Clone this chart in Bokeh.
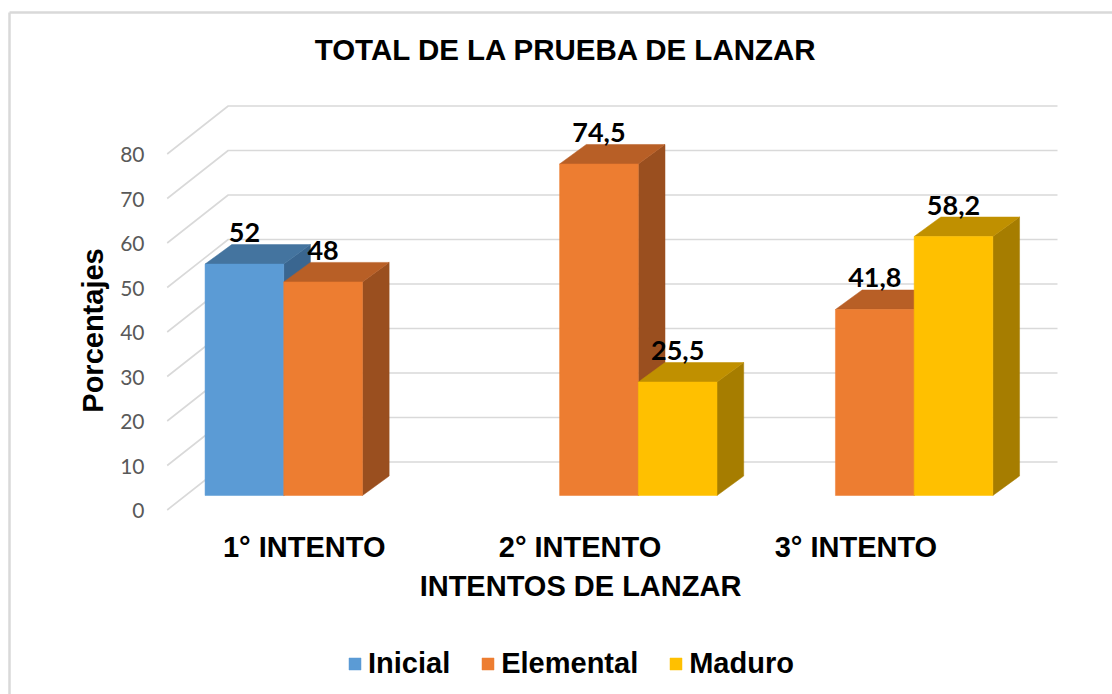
import math
from bokeh.plotting import figure
from bokeh.models import Range1d, Legend, LegendItem
from bokeh.core.properties import value
from bokeh.embed import file_html
from bokeh.resources import INLINE

# ---------------- data ----------------
title_text = "TOTAL DE LA PRUEBA DE LANZAR"
x_title = "INTENTOS DE LANZAR"
y_title = "Porcentajes"
categories = ["1° INTENTO", "2° INTENTO", "3° INTENTO"]
series_names = ["Inicial", "Elemental", "Maduro"]
inicial = [52, None, None]
elemental = [48, 74.5, 41.8]
maduro = [None, 25.5, 58.2]
y_ticks = [0, 10, 20, 30, 40, 50, 60, 70, 80]

front_colors = ["#5B9BD5", "#ED7D31", "#FFC000"]
top_colors = ["#44749F", "#B85F26", "#C09000"]
side_colors = ["#3A6690", "#9A4F1F", "#A67D00"]

series_values = [inicial, elemental, maduro]

# ---------------- geometry (oblique 3-D look) ----------------
W, H = 1112, 694
PX_X = 275.85          # pixels per category unit
PX_Y = 4.45            # pixels per percentage unit
CAT1 = 303.7           # pixel x of first category centre (front plane)
ZERO = 509.5           # pixel y of value 0 (front plane)

x_start = 1 - CAT1 / PX_X
x_end = x_start + W / PX_X
y_start = -(H - ZERO) / PX_Y
y_end = y_start + H / PX_Y


def px2x(px):
    return x_start + px / PX_X


def px2y(py):
    return y_end - py / PX_Y


BFX, BFY = 18.9 / PX_X, 14.5 / PX_Y     # bar front plane shift
DX, DY = 26.7 / PX_X, 19.5 / PX_Y       # bar depth
WX, WY = 61.0 / PX_X, 48.0 / PX_Y       # wall depth
SLOT = 78.7 / PX_X
XL = px2x(166.7)
XR = px2x(1057)

p = figure(width=W, height=H, x_range=Range1d(x_start, x_end), y_range=Range1d(y_start, y_end),
           output_backend="svg", toolbar_location=None, title=None,
           x_axis_location=None, y_axis_location=None,
           min_border_left=0, min_border_right=0, min_border_top=0, min_border_bottom=0)
p.outline_line_color = None
p.grid.visible = False
p.background_fill_color = "white"
p.border_fill_color = "white"

# chart-area border (only left and top edges are inside the picture)
p.segment(x0=[px2x(9), px2x(9)], y0=[px2y(H + 5), px2y(12)], x1=[px2x(9), px2x(W + 5)], y1=[px2y(12), px2y(12)],
          line_color="#D9D9D9", line_width=2.5)

# gridlines: left wall diagonal + back wall horizontal
gxs = [[XL, XL + WX, XR] for t in y_ticks]
gys = [[t, t + WY, t + WY] for t in y_ticks]
p.multi_line(gxs, gys, line_color="#D9D9D9", line_width=1.6)

# bars
front_renderers = []
lab_x, lab_y, lab_t = [], [], []
for k, (name, vals) in enumerate(zip(series_names, series_values)):
    fx0, fx1, fb, ft = [], [], [], []
    txs, tys, sxs, sys_ = [], [], [], []
    for i, v in enumerate(vals):
        if v is None:
            continue
        cx = (i + 1) + (k - 1) * SLOT + BFX
        x0, x1 = cx - SLOT / 2, cx + SLOT / 2
        yb, yt = BFY, v + BFY
        fx0.append(x0); fx1.append(x1); fb.append(yb); ft.append(yt)
        txs.append([x0, x1, x1 + DX, x0 + DX]); tys.append([yt, yt, yt + DY, yt + DY])
        sxs.append([x1, x1 + DX, x1 + DX, x1]); sys_.append([yb, yb + DY, yt + DY, yt])
        lab_x.append(cx); lab_y.append(yt + DY + 12.0 / PX_Y)
        lab_t.append(f"{v:g}".replace(".", ","))
    p.patches(sxs, sys_, fill_color=side_colors[k], line_color=side_colors[k], line_width=0.5)
    p.patches(txs, tys, fill_color=top_colors[k], line_color=top_colors[k], line_width=0.5)
    r = p.quad(left=fx0, right=fx1, bottom=fb, top=ft, fill_color=front_colors[k],
               line_color=front_colors[k], line_width=0.5)
    front_renderers.append(r)

# data labels
p.text(x=lab_x, y=lab_y, text=lab_t, text_align="center", text_baseline="alphabetic",
       text_font=value("Lato"), text_font_style="bold", text_font_size="27px", text_color="black")

# y tick labels (front plane)
p.text(x=[px2x(144)] * len(y_ticks), y=[t - 0.5 / PX_Y for t in y_ticks], text=[str(t) for t in y_ticks],
       text_align="right", text_baseline="alphabetic",
       text_font=value("Lato"), text_font_size="21px", text_color="#595959")

# category labels
p.text(x=[i + 1 for i in range(len(categories))], y=[px2y(546)] * len(categories), text=categories,
       text_align="center", text_baseline="alphabetic",
       text_font=value("Liberation Sans"), text_font_style="bold", text_font_size="29px", text_color="black")

# titles
p.text(x=[px2x(566)], y=[px2y(48.5)], text=[title_text], text_align="center", text_baseline="alphabetic",
       text_font=value("Liberation Sans"), text_font_style="bold", text_font_size="29.5px", text_color="black")
p.text(x=[px2x(580)], y=[px2y(585)], text=[x_title], text_align="center", text_baseline="alphabetic",
       text_font=value("Liberation Sans"), text_font_style="bold", text_font_size="29px", text_color="black")
p.text(x=[px2x(92.5)], y=[px2y(330)], text=[y_title], angle=math.pi / 2, text_align="center",
       text_baseline="alphabetic",
       text_font=value("Liberation Sans"), text_font_style="bold", text_font_size="29px", text_color="black")

# legend
legend = Legend(items=[LegendItem(label=n, renderers=[r]) for n, r in zip(series_names, front_renderers)],
                orientation="horizontal", location=(347, 14), border_line_color=None,
                background_fill_alpha=0, padding=0, margin=0, spacing=30, label_standoff=6,
                glyph_width=15, glyph_height=15,
                label_text_font="Liberation Sans", label_text_font_size="29px",
                label_text_font_style="bold", label_text_color="black")
p.add_layout(legend, "center")

open("out.html", "w").write(file_html(p, INLINE))
